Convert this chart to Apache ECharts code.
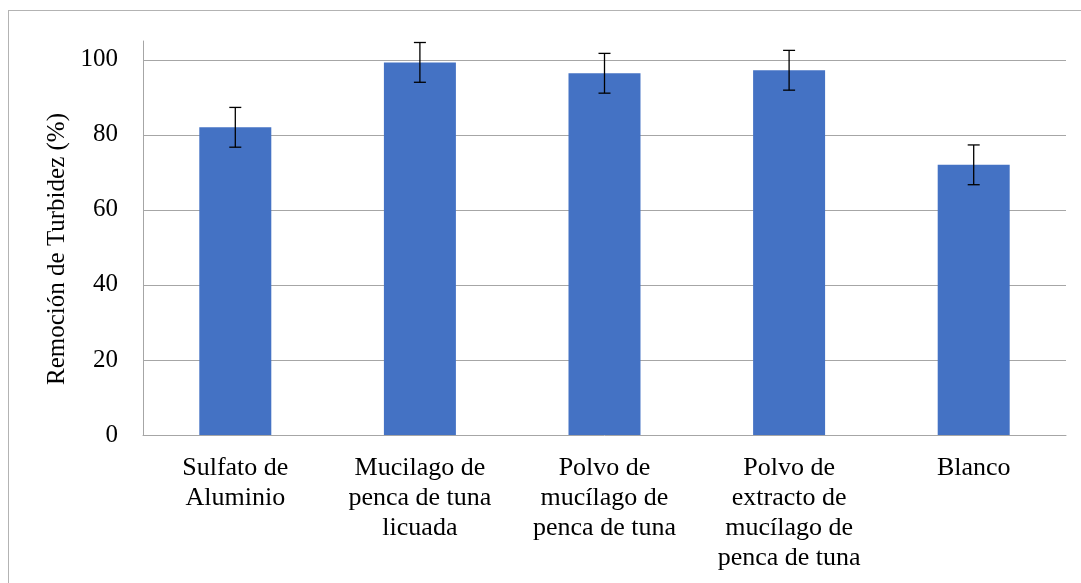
<!DOCTYPE html>
<html>
<head>
<meta charset="utf-8">
<script src="https://cdn.jsdelivr.net/npm/echarts@6/dist/echarts.min.js"></script>
<style>
html,body{margin:0;padding:0;background:#fff;overflow:hidden;}
#chart{position:absolute;left:0;top:0;width:1081px;height:583px;}
#frame{position:absolute;left:8px;top:10px;width:1200px;height:700px;border:1px solid #b3b3b3;box-sizing:border-box;pointer-events:none;}
</style>
</head>
<body>
<div id="chart"></div>
<div id="frame"></div>
<script>
const categories = [
  'Sulfato de\nAluminio',
  'Mucilago de\npenca de tuna\nlicuada',
  'Polvo de\nmucílago de\npenca de tuna',
  'Polvo de\nextracto de\nmucílago de\npenca de tuna',
  'Blanco'
];
const removal = [82.0, 99.3, 96.4, 97.2, 72.0];
const errors = [5.3, 5.3, 5.3, 5.3, 5.3];
const yTicks = [20, 40, 60, 80, 100];
const yTitle = 'Remoción de Turbidez (%)';

const font = '"Liberation Serif", "Times New Roman", serif';
const errData = categories.map((c, i) => [i, removal[i] + errors[i], removal[i] - errors[i]]);

const chart = echarts.init(document.getElementById('chart'));
chart.setOption({
  animation: false,
  backgroundColor: '#fff',
  grid: { left: 143, right: 15, top: 41, bottom: 148, containLabel: false },
  xAxis: {
    type: 'category',
    data: categories,
    axisLine: { show: true, lineStyle: { color: '#a6a6a6', width: 1 } },
    axisTick: { show: false },
    axisLabel: { color: '#000', fontFamily: font, fontSize: 26, lineHeight: 30, margin: 18, interval: 0 },
    splitLine: { show: false }
  },
  yAxis: {
    type: 'value',
    min: 0,
    max: 105,
    interval: 20,
    name: yTitle,
    nameLocation: 'middle',
    nameGap: 72,
    nameRotate: 90,
    nameTextStyle: { color: '#000', fontFamily: font, fontSize: 25, padding: [0, 22, 0, 0] },
    axisLine: { show: true, lineStyle: { color: '#a6a6a6', width: 1 } },
    axisTick: { show: false },
    axisLabel: {
      color: '#000', fontFamily: font, fontSize: 25, margin: 25,
      formatter: v => (yTicks.includes(v) || v === 0) ? String(v) : ''
    },
    splitLine: { show: false }
  },
  series: [
    {
      type: 'bar',
      data: removal,
      barWidth: '39%',
      itemStyle: { color: '#4472C4' },
      z: 2,
      markLine: {
        silent: true,
        symbol: 'none',
        z: 1,
        label: { show: false },
        lineStyle: { color: '#a6a6a6', width: 1, type: 'solid' },
        data: yTicks.map(t => ({ yAxis: t }))
      }
    },
    {
      type: 'custom',
      data: errData,
      z: 5,
      renderItem: function (params, api) {
        const x = api.value(0);
        const hi = api.coord([x, api.value(1)]);
        const lo = api.coord([x, api.value(2)]);
        const hw = 6;
        const st = { stroke: '#000', lineWidth: 1.3 };
        return {
          type: 'group',
          children: [
            { type: 'line', shape: { x1: hi[0], y1: hi[1], x2: lo[0], y2: lo[1] }, style: st },
            { type: 'line', shape: { x1: hi[0] - hw, y1: hi[1], x2: hi[0] + hw, y2: hi[1] }, style: st },
            { type: 'line', shape: { x1: lo[0] - hw, y1: lo[1], x2: lo[0] + hw, y2: lo[1] }, style: st }
          ]
        };
      }
    }
  ]
});
</script>
</body>
</html>
